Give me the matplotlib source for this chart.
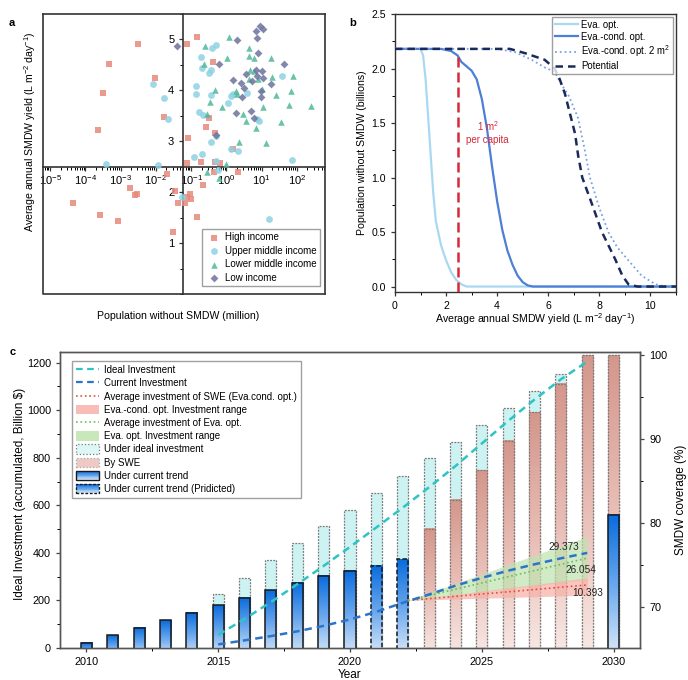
import numpy as np
import matplotlib.pyplot as plt
import matplotlib.ticker as mticker
from matplotlib.patches import Rectangle, Patch
from matplotlib.lines import Line2D
from matplotlib.legend_handler import HandlerBase
from matplotlib.colors import LinearSegmentedColormap

plt.rcParams['font.family'] = ['Liberation Sans', 'DejaVu Sans']
plt.rcParams['font.size'] = 7.5
plt.rcParams['mathtext.default'] = 'regular'

# ---------------- panel a data (x stored as log10 of million people) ----------------
high_lx = [-2.51, -3.32, -2.01, -3.49, -1.78, -3.63, -1.13, -1.08, -1.13, -0.82, -0.38, -0.49,
           -0.59, -0.33, 0.18, -0.72, -0.33, -1.69, -2.73, -2.60, -2.53, -4.35, -3.58, -3.06,
           -1.50, -1.47, -1.36, -1.17, -1.13, -1.03, -0.99, -0.82, -0.66, -0.19, 0.32, -0.35]
high_y = [4.92, 4.52, 4.25, 3.95, 3.48, 3.22, 4.92, 3.06, 2.57, 5.05, 4.56, 3.46,
          3.29, 3.17, 2.84, 2.60, 2.60, 2.35, 2.08, 1.95, 1.96, 1.78, 1.56, 1.44,
          1.22, 2.03, 1.78, 1.78, 1.91, 1.97, 1.86, 1.52, 2.14, 2.58, 2.40, 2.40]

upper_lx = [-2.07, -1.76, -1.65, -3.41, -1.94, -0.40, -0.30, -0.73, -0.68, -0.49, -0.44, -0.87,
            -0.87, -0.44, -0.78, -0.66, 0.04, 0.12, 0.18, 0.58, 1.58, 0.93, 0.88, -0.43,
            -0.30, 0.12, 0.32, -0.91, -0.68, -0.29, 1.86, 1.21, -0.24, -1.27]
upper_y = [4.13, 3.86, 3.44, 2.55, 2.53, 4.84, 4.90, 4.65, 4.43, 4.35, 4.41, 4.08,
           3.92, 3.91, 3.58, 3.52, 3.76, 3.89, 3.92, 3.95, 4.29, 3.40, 3.43, 2.99,
           3.10, 2.84, 2.81, 2.70, 2.76, 2.61, 2.63, 1.48, 2.43, 1.91]

lower_lx = [0.07, -0.61, 0.01, 0.65, 0.63, 0.77, 1.27, -0.64, 0.68, 0.79, 0.63, 0.91,
            1.30, 1.89, 1.02, 0.27, 0.30, -0.33, -0.45, -0.13, 1.05, 1.41, 1.84, 1.77,
            2.40, 1.56, 0.48, 0.56, 0.84, -0.55, 0.37, 1.12, -0.01, -0.54, -0.22]
lower_y = [5.05, 4.88, 4.64, 4.84, 4.67, 4.64, 4.64, 4.51, 4.41, 4.39, 4.22, 4.23,
           4.26, 4.28, 4.02, 3.99, 3.92, 4.00, 3.77, 3.67, 3.67, 3.90, 3.99, 3.71,
           3.69, 3.38, 3.53, 3.40, 3.27, 3.53, 2.99, 2.97, 2.55, 2.40, 2.27]

low_lx = [-1.41, 0.96, 1.05, 0.84, 0.88, 0.30, 0.91, -0.21, 1.63, 0.84, 1.00, 0.56,
          0.88, 1.05, 0.18, 0.74, 1.28, 0.41, 0.51, 0.44, 0.97, 0.99, 0.70, 0.26, 0.77, -0.29]
low_y = [4.87, 5.26, 5.21, 5.16, 5.03, 4.98, 4.74, 4.51, 4.51, 4.41, 4.39, 4.33,
         4.28, 4.25, 4.20, 4.18, 4.12, 4.15, 4.04, 3.87, 3.99, 3.87, 3.59, 3.56, 3.45, 3.12]

# ---------------- panel b data ----------------
eva_x = [0, 1.0, 1.1, 1.2, 1.3, 1.4, 1.5, 1.6, 1.8, 2.0, 2.2, 2.4, 2.6, 2.8, 11]
eva_y = [2.18, 2.18, 2.12, 1.9, 1.55, 1.2, 0.85, 0.6, 0.38, 0.24, 0.13, 0.06, 0.02, 0.0, 0.0]

cond_x = [0, 1.8, 2.2, 2.45, 2.6, 2.8, 3.0, 3.2, 3.4, 3.6, 3.8, 4.0, 4.2, 4.4, 4.6, 4.8, 5.0, 5.2, 5.4, 11]
cond_y = [2.18, 2.18, 2.16, 2.12, 2.06, 2.02, 1.98, 1.9, 1.72, 1.45, 1.1, 0.78, 0.52, 0.33, 0.2, 0.1,
          0.04, 0.01, 0.0, 0.0]

cond2_x = [0, 4.0, 4.7, 5.35, 5.86, 6.25, 6.45, 6.8, 7.16, 7.43, 7.63, 8.0, 8.35, 8.7, 9.1, 9.65, 10.2, 10.6, 11]
cond2_y = [2.18, 2.18, 2.15, 2.08, 2.01, 1.97, 1.88, 1.75, 1.55, 1.25, 1.0, 0.72, 0.5, 0.36, 0.25, 0.1,
           0.02, 0.0, 0.0]

pot_x = [0, 4.5, 5.1, 5.86, 6.25, 6.45, 6.65, 7.05, 7.17, 7.33, 7.72, 8.1, 8.62, 8.9, 9.14, 9.5, 11]
pot_y = [2.18, 2.18, 2.14, 2.08, 2.0, 1.9, 1.77, 1.4, 1.2, 1.0, 0.75, 0.5, 0.25, 0.1, 0.02, 0.0, 0.0]

per_capita_x = 2.45
per_capita_top = 2.13

# ---------------- panel c data ----------------
cur_years = [2010, 2011, 2012, 2013, 2014, 2015, 2016, 2017, 2018, 2019, 2020, 2021, 2022, 2030]
cur_cov = [65.75, 66.6, 67.5, 68.4, 69.3, 70.2, 71.1, 72.0, 72.9, 73.7, 74.3, 74.9, 75.7, 81.0]
cur_pred = [False] * 11 + [True, True, False]

ideal_years = list(range(2015, 2031))
ideal_cov = [71.5, 73.4, 75.6, 77.6, 79.6, 81.6, 83.6, 85.6, 87.7, 89.7, 91.7, 93.7, 95.8, 97.8, 100, 100]

swe_years = list(range(2023, 2031))
swe_cov = [79.3, 82.8, 86.3, 89.8, 93.2, 96.6, 100, 100]

inv_years = list(range(2015, 2030))
ideal_inv = [55, 122, 193, 268, 345, 425, 507, 590, 676, 765, 860, 955, 1045, 1130, 1205]
current_inv = [15, 32, 50, 70, 93, 120, 152, 190, 225, 262, 295, 325, 352, 377, 400]

fan_years = [2022.2, 2029]
swe_avg = [200, 265]
swe_lo = [200, 222]
swe_hi = [200, 295]
eva_avg = [200, 378]
eva_lo = [200, 288]
eva_hi = [200, 469]
end_labels = ['29.373', '26.054', '10.393']
end_label_pos = [(2028.1, 426), (2028.75, 328), (2029.0, 233)]

# ---------------- figure ----------------
fig = plt.figure(figsize=(6.88, 6.8), dpi=100)
dark = '#333333'

# ===== panel a =====
ax = fig.add_axes([0.0625, 0.5676, 0.41, 0.4118])
ax.set_xscale('log')
inc_styles = [
    ('High income', high_lx, high_y, 's', '#E8897D', 18),
    ('Upper middle income', upper_lx, upper_y, 'o', '#8ED2E2', 24),
    ('Lower middle income', lower_lx, lower_y, '^', '#4FB89A', 22),
    ('Low income', low_lx, low_y, 'D', '#6E729E', 16),
]
for name, lx, yy, mk, col, s in inc_styles:
    ax.scatter(10 ** np.array(lx), yy, marker=mk, s=s, color=col, alpha=0.85,
               linewidths=0, label=name, zorder=3)
ax.set_xlim(10 ** -5.2, 10 ** 2.8)
ax.set_ylim(0, 5.5)
ax.spines['left'].set_position(('data', 0.06))
ax.spines['bottom'].set_position(('data', 2.5))
for sp in ax.spines.values():
    sp.set_color(dark)
    sp.set_linewidth(1.2)
ax.plot([0, 0, 1], [1, 0, 0], transform=ax.transAxes, color=dark, lw=1.2, clip_on=False)
ax.set_xticks([1e-5, 1e-4, 1e-3, 1e-2, 1e-1, 1, 10, 100])
ax.xaxis.set_minor_locator(mticker.LogLocator(base=10, subs=np.arange(2, 10), numticks=20))
ax.xaxis.set_minor_formatter(mticker.NullFormatter())
ax.set_yticks([1, 2, 3, 4, 5])
ax.yaxis.set_minor_locator(mticker.MultipleLocator(0.5))
ax.tick_params(labelsize=8, length=3, width=0.9, color=dark)
ax.tick_params(axis='x', pad=1.5)
ax.tick_params(which='minor', length=2, width=0.7)
ax.set_ylabel('Average annual SMDW yield (L m$^{-2}$ day$^{-1}$)', fontsize=7.6)
ax.yaxis.set_label_coords(-0.018, 0.58)
ax.set_xlabel('Population without SMDW (million)', fontsize=7.6)
ax.xaxis.set_label_coords(0.48, -0.062)
ax.legend(loc='lower right', bbox_to_anchor=(0.99, 0.02), fontsize=7, frameon=True,
          fancybox=False, edgecolor='#888888', handletextpad=0.3, labelspacing=0.35,
          borderpad=0.4, borderaxespad=0.2, handlelength=1.6)
fig.text(0.012, 0.962, 'a', fontsize=8, fontweight='bold')

# ===== panel b =====
bx = fig.add_axes([0.5741, 0.5706, 0.4085, 0.4088])
bx.plot(eva_x, eva_y, color='#A9D9F2', lw=1.6, label='Eva. opt.', zorder=3)
bx.plot(cond_x, cond_y, color='#4D7FD6', lw=1.6, label='Eva.-cond. opt.', zorder=3)
bx.plot(cond2_x, cond2_y, color='#7AA0E6', lw=1.3, ls=':', label='Eva.-cond. opt. 2 m$^2$', zorder=3)
bx.plot(pot_x, pot_y, color='#1B2A5C', lw=1.8, ls=(0, (3, 2)), label='Potential', zorder=4)
bx.plot([per_capita_x, per_capita_x], [-0.05, per_capita_top], color='#D42A3A', lw=1.8,
        ls=(0, (4, 2)), zorder=5)
bx.text(3.62, 1.42, '1 m$^2$\nper capita', color='#D42A3A', fontsize=7, ha='center', va='center',
        linespacing=1.25)
bx.set_xlim(0, 11)
bx.set_ylim(-0.05, 2.5)
bx.set_xticks([0, 2, 4, 6, 8, 10])
bx.xaxis.set_minor_locator(mticker.MultipleLocator(1))
bx.set_yticks([0.0, 0.5, 1.0, 1.5, 2.0, 2.5])
bx.yaxis.set_major_formatter(mticker.FormatStrFormatter('%.1f'))
bx.yaxis.set_minor_locator(mticker.MultipleLocator(0.25))
for sp in bx.spines.values():
    sp.set_color(dark)
    sp.set_linewidth(1.0)
bx.tick_params(labelsize=7.6, length=3, width=0.9, color=dark)
bx.tick_params(which='minor', length=2, width=0.7)
bx.set_ylabel('Population without SMDW (billions)', fontsize=7.6)
bx.yaxis.set_label_coords(-0.1, 0.5)
bx.set_xlabel('Average annual SMDW yield (L m$^{-2}$ day$^{-1}$)', fontsize=7.6)
bx.xaxis.set_label_coords(0.5, -0.07)
bx.legend(loc='upper right', bbox_to_anchor=(0.997, 0.997), fontsize=6.9, frameon=True,
          fancybox=False, edgecolor='#888888', handlelength=2.4, handletextpad=0.4,
          labelspacing=0.2, borderpad=0.3, borderaxespad=0.2)
fig.text(0.508, 0.962, 'b', fontsize=8, fontweight='bold')

# ===== panel c =====
cx = fig.add_axes([0.0872, 0.0471, 0.843, 0.4353])
cx2 = cx.twinx()
cx.set_zorder(cx2.get_zorder() + 1)
cx.patch.set_visible(False)

blue_cmap = LinearSegmentedColormap.from_list('blue', ['#DDEBFA', '#6AA8EE', '#0A6CDD'])
pink_cmap = LinearSegmentedColormap.from_list('pink', ['#F8E9E6', '#E8BDB5', '#D4978C'])
bar_w = 0.42
bar_base = 64


def grad_bar(ax_, x, top, cmap, edge, ls, lw, z):
    grad = np.linspace(0, 1, 80).reshape(-1, 1)
    ax_.imshow(grad, extent=(x - bar_w / 2, x + bar_w / 2, bar_base, top), origin='lower',
               aspect='auto', cmap=cmap, zorder=z, interpolation='bilinear')
    ax_.add_patch(Rectangle((x - bar_w / 2, bar_base), bar_w, top - bar_base, facecolor='none',
                            edgecolor=edge, linestyle=ls, lw=lw, zorder=z + 0.1))


for yr, v in zip(ideal_years, ideal_cov):
    cx2.add_patch(Rectangle((yr - bar_w / 2, bar_base), bar_w, v - bar_base, facecolor='#CDF2F2',
                            edgecolor='#7A7A7A', linestyle=(0, (1.5, 1)), lw=0.9, zorder=1))
for yr, v in zip(swe_years, swe_cov):
    grad_bar(cx2, yr, v, pink_cmap, '#7A7A7A', (0, (1.5, 1)), 0.9, 2)
for yr, v, pred in zip(cur_years, cur_cov, cur_pred):
    grad_bar(cx2, yr, v, blue_cmap, '#1A1A1A', (0, (3, 1.5)) if pred else '-', 1.1, 3)

cx2.set_xlim(2009, 2031)
cx2.set_ylim(65.1, 100.4)
cx2.set_yticks([70, 80, 90, 100])
cx2.yaxis.set_minor_locator(mticker.MultipleLocator(5))
cx2.set_ylabel('SMDW coverage (%)', fontsize=8.5, labelpad=6)

cx.fill_between(fan_years, eva_lo, eva_hi, color='#BDE3AE', alpha=0.7, lw=0, zorder=2)
cx.fill_between(fan_years, swe_lo, swe_hi, color='#F7AFA6', alpha=0.7, lw=0, zorder=2)
cx.plot(inv_years, ideal_inv, color='#2EC4C4', lw=1.8, ls=(0, (3, 2)), zorder=5)
cx.plot(inv_years, current_inv, color='#2B74C9', lw=1.8, ls=(0, (3, 2)), zorder=5)
cx.plot(fan_years, swe_avg, color='#E0503C', lw=1.2, ls=':', zorder=4)
cx.plot(fan_years, eva_avg, color='#6DBE58', lw=1.2, ls=':', zorder=4)
for lab, (lx_, ly_) in zip(end_labels, end_label_pos):
    cx.text(lx_, ly_, lab, fontsize=7.2, ha='center', va='center', color='#222222', zorder=6)

cx.set_xlim(2009, 2031)
cx.set_ylim(0, 1245)
cx.set_xticks([2010, 2015, 2020, 2025, 2030])
cx.xaxis.set_minor_locator(mticker.MultipleLocator(2.5))
cx.set_yticks([0, 200, 400, 600, 800, 1000, 1200])
cx.yaxis.set_minor_locator(mticker.MultipleLocator(100))
for a_ in (cx, cx2):
    for sp in a_.spines.values():
        sp.set_color('#555555')
        sp.set_linewidth(1.0)
    a_.tick_params(labelsize=7.8, length=3, width=0.9, color='#444444')
    a_.tick_params(which='minor', length=2, width=0.7)
cx.set_ylabel('Ideal Investment (accumulated, Billion $)', fontsize=8.5)
cx.yaxis.set_label_coords(-0.058, 0.52)
cx.set_xlabel('Year', fontsize=8.5)
cx.xaxis.set_label_coords(0.5, -0.07)


class GradHandler(HandlerBase):
    def __init__(self, ls):
        super().__init__()
        self.ls = ls

    def create_artists(self, legend, orig_handle, xdescent, ydescent, width, height, fontsize, trans):
        arts = []
        n = 12
        cols = blue_cmap(np.linspace(0, 1, n))
        for i in range(n):
            arts.append(Rectangle((-xdescent, -ydescent + height * i / n), width, height / n,
                                  facecolor=cols[i], edgecolor='none', transform=trans))
        arts.append(Rectangle((-xdescent, -ydescent), width, height, facecolor='none',
                              edgecolor='#1A1A1A', lw=1.0, ls=self.ls, transform=trans))
        return arts


cur_proxy = Patch(facecolor='#4A90E0')
pred_proxy = Patch(facecolor='#4A90E0', linestyle='--')
handles = [
    Line2D([], [], color='#2EC4C4', lw=1.6, ls=(0, (3, 2))),
    Line2D([], [], color='#2B74C9', lw=1.6, ls=(0, (3, 2))),
    Line2D([], [], color='#E0503C', lw=1.2, ls=':'),
    Patch(facecolor='#F7BDB6', edgecolor='none'),
    Line2D([], [], color='#6DBE58', lw=1.2, ls=':'),
    Patch(facecolor='#C8E8BC', edgecolor='none'),
    Patch(facecolor='#DDF6F6', edgecolor='#7A7A7A', linestyle=':', lw=0.9),
    Patch(facecolor='#EFC9C3', edgecolor='#AAAAAA', linestyle=':', lw=0.9),
    cur_proxy,
    pred_proxy,
]
labels = [
    'Ideal Investment',
    'Current Investment',
    'Average investment of SWE (Eva.cond. opt.)',
    'Eva.-cond. opt. Investment range',
    'Average investment of Eva. opt.',
    'Eva. opt. Investment range',
    'Under ideal investment',
    'By SWE',
    'Under current trend',
    'Under current trend (Pridicted)',
]
cx.legend(handles, labels, loc='upper left', bbox_to_anchor=(0.012, 0.985), fontsize=7,
          frameon=True, fancybox=False, edgecolor='#888888', handlelength=2.4, handleheight=1.1,
          handletextpad=0.5, labelspacing=0.33, borderpad=0.4,
          handler_map={cur_proxy: GradHandler('-'), pred_proxy: GradHandler((0, (2, 1.2)))})
fig.text(0.014, 0.478, 'c', fontsize=8, fontweight='bold')

fig.savefig('out.png', dpi=100)
